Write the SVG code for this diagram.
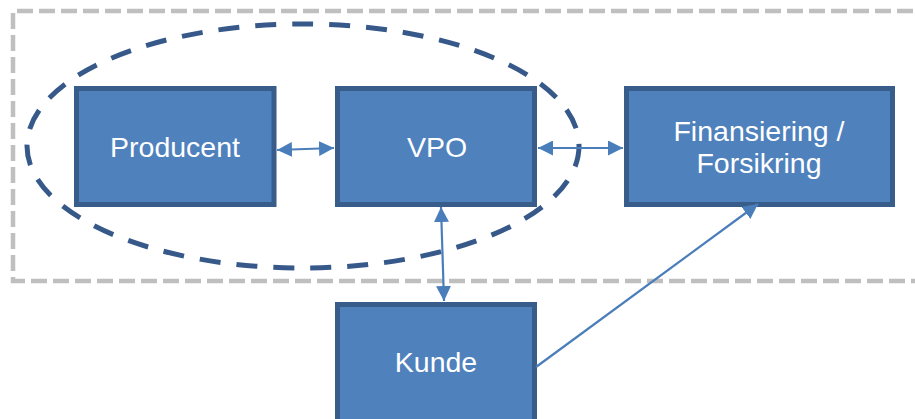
<svg xmlns="http://www.w3.org/2000/svg" width="915" height="419" viewBox="0 0 915 419">
  <defs>
    <style>
      .box { fill: #4f81bd; stroke: #385d8a; stroke-width: 5; }
      .label { fill: #ffffff; font-family: "Liberation Sans", Arial, sans-serif; font-size: 28.5px; text-anchor: middle; }
      .link { fill: none; stroke: #4a7ebb; stroke-width: 2.2; }
      .frame { fill: none; stroke: #bfbfbf; stroke-width: 4.5; stroke-dasharray: 16 6; }
      .group { fill: none; stroke: #36598a; stroke-width: 5; stroke-dasharray: 21 16; }
    </style>
    <marker id="head" viewBox="0 0 10 10" refX="10" refY="5" markerWidth="15" markerHeight="15" markerUnits="userSpaceOnUse" orient="auto-start-reverse">
      <path d="M0,0 L10,5 L0,10 z" fill="#4a7ebb"/>
    </marker>
  </defs>

  <rect width="915" height="419" fill="#ffffff"/>

  <!-- outer dashed boundary -->
  <path class="frame" d="M935,11 H13 V281 H935"/>

  <!-- dashed grouping ellipse -->
  <ellipse class="group" cx="303" cy="146" rx="276" ry="122"/>

  <g id="producent">
    <rect class="box" x="76.5" y="88.5" width="197.5" height="116"/>
    <text class="label" x="175" y="157">Producent</text>
  </g>

  <g id="vpo">
    <rect class="box" x="337.5" y="88.5" width="197" height="116"/>
    <text class="label" x="437" y="157">VPO</text>
  </g>

  <g id="finansiering">
    <rect class="box" x="626.5" y="88.5" width="266" height="116"/>
    <text class="label" x="759" y="141">Finansiering /</text>
    <text class="label" x="759" y="173">Forsikring</text>
  </g>

  <g id="kunde">
    <rect class="box" x="337.5" y="304.5" width="197" height="130"/>
    <text class="label" x="436" y="372">Kunde</text>
  </g>

  <g id="connectors">
    <line class="link" x1="277" y1="150" x2="334" y2="148" marker-start="url(#head)" marker-end="url(#head)"/>
    <line class="link" x1="538" y1="148" x2="623" y2="148" marker-start="url(#head)" marker-end="url(#head)"/>
    <line class="link" x1="441" y1="207" x2="444" y2="301" marker-start="url(#head)" marker-end="url(#head)"/>
    <line class="link" x1="536" y1="367" x2="758" y2="204" marker-end="url(#head)"/>
  </g>
</svg>
